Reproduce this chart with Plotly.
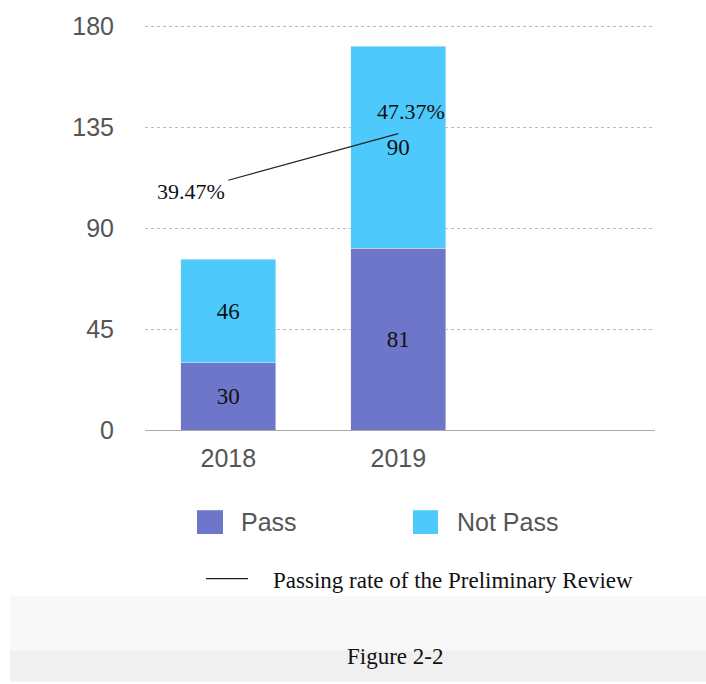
import plotly.graph_objects as go

years = ["2018", "2019", ""]
pass_vals = [30, 81]
not_pass_vals = [46, 90]
rates = [39.47, 47.37]
rate_labels = ["39.47%", "47.37%"]

W, H = 706, 684
L, R, T, B = 145, 51, 21, 254
PW, PH = W - L - R, H - T - B

def px(x):
    return (x - L) / PW

def py(y):
    return (H - B - y) / PH

PASS_C = "#6E76C9"
NOT_C = "#4DCAFB"
SERIF = "Liberation Serif, Times New Roman, serif"
SANS = "Liberation Sans, Arial, sans-serif"

fig = go.Figure()
fig.add_trace(go.Bar(x=years[:2], y=pass_vals, name="Pass", marker_color=PASS_C,
                     width=0.56, text=[str(v) for v in pass_vals], textposition="inside",
                     insidetextanchor="middle", textangle=0,
                     textfont=dict(family=SERIF, size=23, color="#111")))
fig.add_trace(go.Bar(x=years[:2], y=not_pass_vals, name="Not Pass", marker_color=NOT_C,
                     width=0.56, text=[str(v) for v in not_pass_vals], textposition="inside",
                     insidetextanchor="middle", textangle=0,
                     textfont=dict(family=SERIF, size=23, color="#111")))
fig.add_trace(go.Scatter(x=years[:2], y=rates, yaxis="y2", mode="lines",
                         line=dict(color="#222", width=1.2),
                         name="Passing rate of the Preliminary Review"))

annotations = [
    dict(x=0, y=rates[0], xref="x", yref="y2", text=rate_labels[0], showarrow=False,
         xshift=-37, yshift=-11, font=dict(family=SERIF, size=22, color="#111")),
    dict(x=1, y=rates[1], xref="x", yref="y2", text=rate_labels[1], showarrow=False,
         xshift=13, yshift=22, font=dict(family=SERIF, size=22, color="#111")),
    dict(x=px(239), y=py(523), xref="paper", yref="paper", text="Pass", showarrow=False,
         xanchor="left", yanchor="middle", font=dict(family=SANS, size=25, color="#555")),
    dict(x=px(455), y=py(523), xref="paper", yref="paper", text="Not Pass", showarrow=False,
         xanchor="left", yanchor="middle", font=dict(family=SANS, size=25, color="#555")),
    dict(x=px(271), y=py(582), xref="paper", yref="paper",
         text="Passing rate of the Preliminary Review", showarrow=False,
         xanchor="left", yanchor="middle", font=dict(family=SERIF, size=23, color="#111")),
    dict(x=px(395), y=py(659), xref="paper", yref="paper", text="Figure 2-2", showarrow=False,
         xanchor="center", yanchor="middle", font=dict(family=SERIF, size=23, color="#111")),
]

shapes = [
    dict(type="rect", xref="paper", yref="paper", x0=px(10), x1=px(706), y0=py(598), y1=py(653),
         fillcolor="#f8f8f8", line_width=0, layer="below"),
    dict(type="rect", xref="paper", yref="paper", x0=px(10), x1=px(706), y0=py(653), y1=py(684),
         fillcolor="#f0f0f0", line_width=0, layer="below"),
    dict(type="rect", xref="paper", yref="paper", x0=px(197), x1=px(223), y0=py(511), y1=py(535),
         fillcolor=PASS_C, line_width=0),
    dict(type="rect", xref="paper", yref="paper", x0=px(413), x1=px(438), y0=py(511), y1=py(535),
         fillcolor=NOT_C, line_width=0),
    dict(type="line", xref="paper", yref="paper", x0=px(206), x1=px(248), y0=py(580), y1=py(580),
         line=dict(color="#222", width=1.2)),
]

fig.update_layout(
    width=W, height=H, margin=dict(l=L, r=R, t=T, b=B),
    barmode="stack", showlegend=False,
    plot_bgcolor="white", paper_bgcolor="white",
    xaxis=dict(type="category", categoryarray=["2018", "2019", " "], range=[-0.49, 2.51],
               showline=True, linecolor="#aaa", linewidth=1, showgrid=False, ticks="",
               tickfont=dict(family=SANS, size=25, color="#555"), ticklabelstandoff=6,
               fixedrange=True),
    yaxis=dict(range=[0, 180.5], tickvals=[0, 45, 90, 135, 180], showgrid=True,
               gridcolor="#bbb", griddash="dot", gridwidth=1, zeroline=False,
               tickfont=dict(family=SANS, size=25, color="#555"), ticks="",
               ticklabelstandoff=30),
    yaxis2=dict(overlaying="y", range=[-2.9, 65.8], showgrid=False, zeroline=False,
                showline=False, showticklabels=False, ticks=""),
    annotations=annotations, shapes=shapes,
)

fig.write_html("out.html")
